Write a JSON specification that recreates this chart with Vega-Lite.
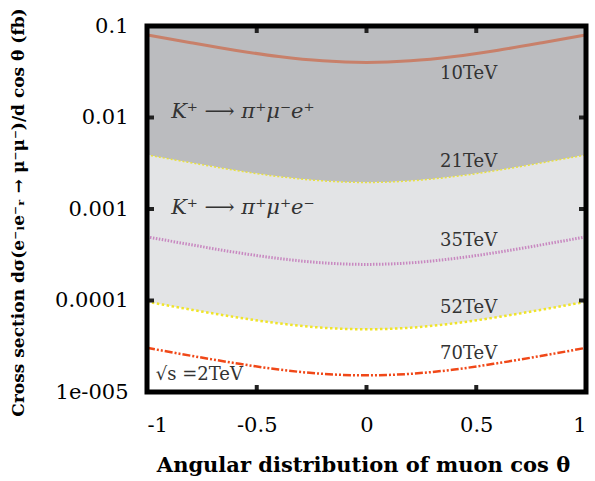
{
  "$schema": "https://vega.github.io/schema/vega-lite/v6.json",
  "width": 439,
  "height": 366,
  "autosize": "none",
  "padding": {"left": 147, "top": 26, "right": 9, "bottom": 89},
  "background": "white",
  "config": {
    "view": {"stroke": null, "fill": "white"},
    "axis": {
      "domain": false,
      "grid": false,
      "ticks": false,
      "labelFont": "DejaVu Serif",
      "labelFontSize": 21,
      "labelColor": "black",
      "titleFont": "DejaVu Serif",
      "titleColor": "black"
    }
  },
  "datasets": {
    "curves": [
      {"c": -1.0, "v10": 0.080, "v21": 0.00390, "v35": 0.000496, "v52": 0.0000970, "v70": 0.0000304},
      {"c": -0.8, "v10": 0.0656, "v21": 0.00320, "v35": 0.000407, "v52": 0.0000795, "v70": 0.0000249},
      {"c": -0.6, "v10": 0.0544, "v21": 0.00265, "v35": 0.000337, "v52": 0.0000660, "v70": 0.0000207},
      {"c": -0.4, "v10": 0.0464, "v21": 0.00226, "v35": 0.000288, "v52": 0.0000563, "v70": 0.0000176},
      {"c": -0.2, "v10": 0.0416, "v21": 0.00203, "v35": 0.000258, "v52": 0.0000504, "v70": 0.0000158},
      {"c": 0.0, "v10": 0.0400, "v21": 0.00195, "v35": 0.000248, "v52": 0.0000485, "v70": 0.0000152},
      {"c": 0.2, "v10": 0.0416, "v21": 0.00203, "v35": 0.000258, "v52": 0.0000504, "v70": 0.0000158},
      {"c": 0.4, "v10": 0.0464, "v21": 0.00226, "v35": 0.000288, "v52": 0.0000563, "v70": 0.0000176},
      {"c": 0.6, "v10": 0.0544, "v21": 0.00265, "v35": 0.000337, "v52": 0.0000660, "v70": 0.0000207},
      {"c": 0.8, "v10": 0.0656, "v21": 0.00320, "v35": 0.000407, "v52": 0.0000795, "v70": 0.0000249},
      {"c": 1.0, "v10": 0.080, "v21": 0.00390, "v35": 0.000496, "v52": 0.0000970, "v70": 0.0000304}
    ],
    "labels": [
      {"c": 0.335, "v": 0.030, "t": "10TeV"},
      {"c": 0.335, "v": 0.0033, "t": "21TeV"},
      {"c": 0.335, "v": 0.00045, "t": "35TeV"},
      {"c": 0.335, "v": 0.000083, "t": "52TeV"},
      {"c": 0.335, "v": 0.000026, "t": "70TeV"},
      {"c": -0.96, "v": 0.0000155, "t": "√s =2TeV"}
    ],
    "decays": [
      {"c": -0.89, "v": 0.0115, "t": "K⁺ ⟶ π⁺μ⁻e⁺"},
      {"c": -0.89, "v": 0.00103, "t": "K⁺ ⟶ π⁺μ⁺e⁻"}
    ],
    "topticks": [{"c": -0.5, "v": 0.1}, {"c": 0, "v": 0.1}, {"c": 0.5, "v": 0.1}],
    "bottomticks": [{"c": -0.5, "v": 0.00001}, {"c": 0, "v": 0.00001}, {"c": 0.5, "v": 0.00001}],
    "leftticks": [{"c": -1, "v": 0.01}, {"c": -1, "v": 0.001}, {"c": -1, "v": 0.0001}],
    "rightticks": [{"c": 1, "v": 0.01}, {"c": 1, "v": 0.001}, {"c": 1, "v": 0.0001}],
    "frame": [
      {"k": 0, "c": -1, "v": 0.00001},
      {"k": 1, "c": -1, "v": 0.1},
      {"k": 2, "c": 1, "v": 0.1},
      {"k": 3, "c": 1, "v": 0.00001},
      {"k": 4, "c": -1, "v": 0.00001}
    ]
  },
  "data": {"name": "curves"},
  "encoding": {
    "x": {
      "field": "c",
      "type": "quantitative",
      "scale": {"domain": [-1, 1], "nice": false, "zero": false},
      "axis": {
        "values": [-1, -0.5, 0, 0.5, 1],
        "labelExpr": "toString(datum.value)",
        "labelPadding": 22,
        "title": "Angular distribution of muon cos θ",
        "titleFontSize": 21,
        "titleFontWeight": "bold",
        "titleBaseline": "middle",
        "titleY": 73,
        "titleX": 216
      }
    },
    "y": {
      "type": "quantitative",
      "scale": {"type": "log", "domain": [0.00001, 0.1], "nice": false},
      "axis": {
        "values": [0.1, 0.01, 0.001, 0.0001, 0.00001],
        "labelExpr": "datum.value < 0.00005 ? '1e-005' : format(datum.value, '~g')",
        "labelPadding": 19,
        "labelBaseline": "middle",
        "title": "Cross section dσ(e⁻ₗe⁻ᵣ → μ⁻μ⁻)/d cos θ (fb)",
        "titleFontSize": 17,
        "titleFontWeight": "bold",
        "titleX": -129,
        "titleY": 186,
        "titleBaseline": "middle"
      }
    }
  },
  "layer": [
    {
      "mark": {"type": "area", "color": "#bbbcbf", "interpolate": "monotone"},
      "encoding": {"y": {"field": "v21"}, "y2": {"datum": 0.1}}
    },
    {
      "mark": {"type": "area", "color": "#e3e4e6", "interpolate": "monotone"},
      "encoding": {"y": {"field": "v52"}, "y2": {"field": "v21"}}
    },
    {
      "mark": {"type": "line", "color": "#c8806a", "strokeWidth": 3, "interpolate": "monotone"},
      "encoding": {"y": {"field": "v10"}}
    },
    {
      "mark": {"type": "line", "color": "#e8e040", "strokeWidth": 1.5, "strokeDash": [2, 2], "interpolate": "monotone"},
      "encoding": {"y": {"field": "v21"}}
    },
    {
      "mark": {"type": "line", "color": "#c888c0", "strokeWidth": 3, "strokeDash": [1.5, 1.5], "interpolate": "monotone"},
      "encoding": {"y": {"field": "v35"}}
    },
    {
      "mark": {"type": "line", "color": "#f0e428", "strokeWidth": 2.5, "strokeDash": [2.5, 2.5], "interpolate": "monotone"},
      "encoding": {"y": {"field": "v52"}}
    },
    {
      "mark": {"type": "line", "color": "#f04818", "strokeWidth": 2.5, "strokeDash": [8, 2, 2, 2, 2, 2], "interpolate": "monotone"},
      "encoding": {"y": {"field": "v70"}}
    },
    {
      "data": {"name": "labels"},
      "mark": {"type": "text", "align": "left", "baseline": "middle", "font": "DejaVu Serif", "fontSize": 18, "color": "#333"},
      "encoding": {"y": {"field": "v"}, "text": {"field": "t"}}
    },
    {
      "data": {"name": "decays"},
      "mark": {"type": "text", "align": "left", "baseline": "middle", "font": "DejaVu Serif", "fontSize": 21, "fontStyle": "italic", "color": "#333"},
      "encoding": {"y": {"field": "v"}, "text": {"field": "t"}}
    },
    {
      "data": {"name": "topticks"},
      "mark": {"type": "tick", "orient": "vertical", "color": "#222", "thickness": 4, "size": 7, "yOffset": 3.5, "opacity": 1},
      "encoding": {"y": {"field": "v"}}
    },
    {
      "data": {"name": "bottomticks"},
      "mark": {"type": "tick", "orient": "vertical", "color": "#222", "thickness": 4, "size": 7, "yOffset": -3.5, "opacity": 1},
      "encoding": {"y": {"field": "v"}}
    },
    {
      "data": {"name": "leftticks"},
      "mark": {"type": "tick", "orient": "horizontal", "color": "#222", "thickness": 4, "size": 7, "xOffset": 3.5, "opacity": 1},
      "encoding": {"y": {"field": "v"}}
    },
    {
      "data": {"name": "rightticks"},
      "mark": {"type": "tick", "orient": "horizontal", "color": "#222", "thickness": 4, "size": 7, "xOffset": -3.5, "opacity": 1},
      "encoding": {"y": {"field": "v"}}
    },
    {
      "data": {"name": "frame"},
      "mark": {"type": "line", "color": "black", "strokeWidth": 5, "strokeCap": "square", "strokeJoin": "miter"},
      "encoding": {"y": {"field": "v"}, "order": {"field": "k"}}
    }
  ]
}
